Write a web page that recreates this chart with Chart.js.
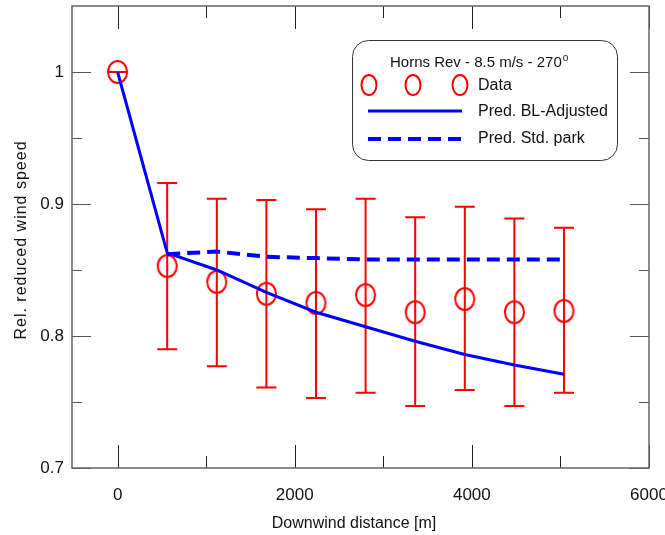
<!DOCTYPE html>
<html>
<head>
    <title>Horns Rev</title>
    <script src="https://cdn.jsdelivr.net/npm/chart.js"></script>
    <style>
        body { margin: 0; background: #fff; }
        .chart-container { position: relative; width: 665px; height: 535px; }
    </style>
</head>
<body>
    <div class="chart-container">
        <canvas id="hornsChart"></canvas>
    </div>
    <script>
        // distances en m (7D, D = 80 m)
        const distances = [0, 560, 1120, 1680, 2240, 2800, 3360, 3920, 4480, 5040];
        // mesures
        const dataValues = [1.0, 0.853, 0.841, 0.832, 0.825, 0.831, 0.818, 0.828, 0.818, 0.819];
        const errHigh = [1.0, 0.916, 0.904, 0.903, 0.896, 0.904, 0.890, 0.898, 0.889, 0.882];
        const errLow = [1.0, 0.790, 0.777, 0.761, 0.753, 0.757, 0.747, 0.759, 0.747, 0.757];
        // modeles
        const predBL = [1.0, 0.863, 0.850, 0.833, 0.818, 0.807, 0.796, 0.786, 0.778, 0.771];
        const predStd = [null, 0.862, 0.864, 0.860, 0.859, 0.858, 0.858, 0.858, 0.858, 0.858];
        const xTicks = [0, 2000, 4000, 6000];
        const xMinorTicks = [1000, 3000, 5000];
        const yTicks = [0.7, 0.8, 0.9, 1.0];
        const yMinorTicks = [0.75, 0.85, 0.95];
        const legendTitle = 'Horns Rev - 8.5 m/s - 270';
        const legendLabels = ['Data', 'Pred. BL-Adjusted', 'Pred. Std. park'];

        const RED = '#ff0000';
        const BLUE = '#0000ff';
        const FONT = 'Liberation Sans, Arial, sans-serif';

        function ellipseMarker(w, h) {
            const c = document.createElement('canvas');
            c.width = w + 4; c.height = h + 4;
            const g = c.getContext('2d');
            g.strokeStyle = RED;
            g.lineWidth = 2;
            g.beginPath();
            g.ellipse(c.width / 2, c.height / 2, w / 2, h / 2, 0, 0, Math.PI * 2);
            g.stroke();
            return c;
        }

        // cadre + graduations vers l'interieur
        const framePlugin = {
            id: 'frame',
            afterDraw(chart) {
                const ctx = chart.ctx, a = chart.chartArea;
                const xs = chart.scales.x, ys = chart.scales.y;
                ctx.save();
                ctx.strokeStyle = '#222';
                ctx.lineWidth = 1;
                ctx.beginPath();
                xTicks.forEach(v => {
                    const px = Math.round(xs.getPixelForValue(v)) + 0.5;
                    ctx.moveTo(px, a.bottom); ctx.lineTo(px, a.bottom - 23);
                    ctx.moveTo(px, a.top); ctx.lineTo(px, a.top + 23);
                });
                xMinorTicks.forEach(v => {
                    const px = Math.round(xs.getPixelForValue(v)) + 0.5;
                    ctx.moveTo(px, a.bottom); ctx.lineTo(px, a.bottom - 12);
                    ctx.moveTo(px, a.top); ctx.lineTo(px, a.top + 12);
                });
                ctx.stroke();
                ctx.strokeStyle = '#555';
                ctx.beginPath();
                yTicks.forEach(v => {
                    const py = Math.round(ys.getPixelForValue(v)) + 0.5;
                    ctx.moveTo(a.left, py); ctx.lineTo(a.left + 19, py);
                    ctx.moveTo(a.right, py); ctx.lineTo(a.right - 19, py);
                });
                yMinorTicks.forEach(v => {
                    const py = Math.round(ys.getPixelForValue(v)) + 0.5;
                    ctx.moveTo(a.left, py); ctx.lineTo(a.left + 10, py);
                    ctx.moveTo(a.right, py); ctx.lineTo(a.right - 10, py);
                });
                ctx.stroke();
                ctx.strokeStyle = '#666';
                ctx.lineWidth = 1.5;
                ctx.strokeRect(a.left, a.top, a.right - a.left, a.bottom - a.top);

                // titres des axes
                ctx.fillStyle = '#111';
                ctx.font = '16px ' + FONT;
                ctx.textAlign = 'center';
                ctx.textBaseline = 'alphabetic';
                ctx.fillText('Downwind distance [m]', 354, 528);
                ctx.translate(26, 240);
                ctx.rotate(-Math.PI / 2);
                if ('letterSpacing' in ctx) ctx.letterSpacing = '1px';
                ctx.fillText('Rel. reduced wind speed', 0, 0);
                ctx.restore();

                drawLegend(ctx);
            }
        };

        const errorBarPlugin = {
            id: 'errorBars',
            beforeDatasetsDraw(chart) {
                const ctx = chart.ctx;
                const xs = chart.scales.x, ys = chart.scales.y;
                ctx.save();
                ctx.strokeStyle = RED;
                ctx.lineWidth = 2;
                ctx.beginPath();
                distances.forEach((d, i) => {
                    const px = xs.getPixelForValue(d);
                    const top = ys.getPixelForValue(errHigh[i]);
                    const bot = ys.getPixelForValue(errLow[i]);
                    ctx.moveTo(px, top); ctx.lineTo(px, bot);
                    ctx.moveTo(px - 10, top); ctx.lineTo(px + 10, top);
                    ctx.moveTo(px - 10, bot); ctx.lineTo(px + 10, bot);
                });
                ctx.stroke();
                ctx.restore();
            }
        };

        function drawLegend(ctx) {
            const x = 352, y = 40, w = 265, h = 120, r = 16;
            ctx.save();
            ctx.fillStyle = '#fff';
            ctx.strokeStyle = '#333';
            ctx.lineWidth = 1;
            ctx.beginPath();
            ctx.roundRect(x + 0.5, y + 0.5, w, h, r);
            ctx.fill();
            ctx.stroke();

            ctx.fillStyle = '#111';
            ctx.font = '15px ' + FONT;
            ctx.textBaseline = 'middle';
            ctx.textAlign = 'left';
            ctx.fillText(legendTitle, 390, 63);
            const tw = ctx.measureText(legendTitle).width;
            ctx.font = '10px ' + FONT;
            ctx.fillText('o', 390 + tw + 1, 58);

            ctx.font = '16px ' + FONT;
            ctx.fillText(legendLabels[0], 478, 86);
            ctx.fillText(legendLabels[1], 478, 112);
            ctx.fillText(legendLabels[2], 478, 139);

            ctx.strokeStyle = RED;
            ctx.lineWidth = 2;
            [369, 413, 460].forEach(cx => {
                ctx.beginPath();
                ctx.ellipse(cx, 85, 7.5, 10, 0, 0, Math.PI * 2);
                ctx.stroke();
            });
            ctx.strokeStyle = BLUE;
            ctx.lineWidth = 3;
            ctx.beginPath();
            ctx.moveTo(368, 111); ctx.lineTo(462, 111);
            ctx.stroke();
            ctx.lineWidth = 4;
            ctx.setLineDash([13, 7]);
            ctx.beginPath();
            ctx.moveTo(368, 139); ctx.lineTo(462, 139);
            ctx.stroke();
            ctx.restore();
        }

        const marker = ellipseMarker(19, 22);

        new Chart(document.getElementById('hornsChart'), {
            type: 'scatter',
            data: {
                datasets: [
                    {
                        label: legendLabels[0],
                        data: distances.map((d, i) => ({ x: d, y: dataValues[i] })),
                        pointStyle: marker,
                        pointRadius: 11,
                        showLine: false,
                        order: 2
                    },
                    {
                        label: legendLabels[1],
                        data: distances.map((d, i) => ({ x: d, y: predBL[i] })),
                        showLine: true,
                        borderColor: BLUE,
                        borderWidth: 3,
                        pointRadius: 0,
                        tension: 0,
                        order: 1
                    },
                    {
                        label: legendLabels[2],
                        data: distances.map((d, i) => ({ x: d, y: predStd[i] })).filter(p => p.y !== null),
                        showLine: true,
                        borderColor: BLUE,
                        borderWidth: 4,
                        borderDash: [13, 7],
                        pointRadius: 0,
                        tension: 0,
                        order: 0
                    }
                ]
            },
            options: {
                responsive: true,
                maintainAspectRatio: false,
                animation: false,
                layout: { autoPadding: false, padding: { top: 6, right: 16, left: 0, bottom: 0 } },
                plugins: { legend: { display: false }, tooltip: { enabled: false } },
                scales: {
                    x: {
                        type: 'linear',
                        min: -515,
                        max: 6000,
                        afterBuildTicks: s => { s.ticks = xTicks.map(v => ({ value: v })); },
                        afterFit: s => { s.height = 67; s.paddingLeft = 0; s.paddingRight = 0; },
                        grid: { display: false, drawTicks: false },
                        border: { display: false },
                        ticks: { color: '#111', font: { size: 17, family: FONT }, padding: 17, maxRotation: 0,
                                 callback: v => String(v) }
                    },
                    y: {
                        type: 'linear',
                        min: 0.7,
                        max: 1.05,
                        afterBuildTicks: s => { s.ticks = yTicks.map(v => ({ value: v })); },
                        afterFit: s => { s.width = 72; s.paddingTop = 0; s.paddingBottom = 0; },
                        grid: { display: false, drawTicks: false },
                        border: { display: false },
                        ticks: { color: '#111', font: { size: 17, family: FONT }, padding: 8,
                                 callback: v => String(Math.round(v * 10) / 10) }
                    }
                }
            },
            plugins: [errorBarPlugin, framePlugin]
        });
    </script>
</body>
</html>
